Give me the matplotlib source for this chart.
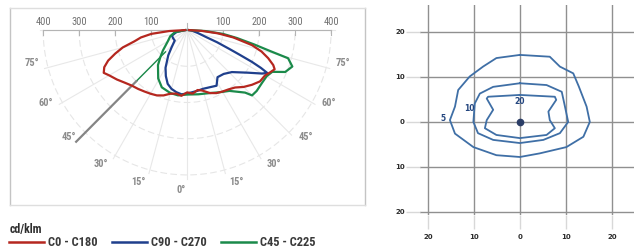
import matplotlib
matplotlib.use("Agg")
import matplotlib.pyplot as plt
from matplotlib import font_manager
import numpy as np

# ---- polar photometric curves (gamma in degrees from nadir, cd/klm) ----
red_gamma = [-90, -87, -84, -81, -78, -75, -72, -69, -66, -63, -60, -55, -50, -45, -40, -35, -30,
             -25, -20, -15, -10, -5, 0, 5, 10, 14, 20, 25, 30, 35, 40, 45, 50, 55, 60, 63, 66, 68,
             71, 74, 77, 81, 84, 87, 90]
red_cd = [5, 50, 100, 130, 150, 185, 210, 235, 252, 260, 250, 238, 226, 217, 212, 207, 203,
          199, 192, 182, 178, 182, 172, 176, 168, 172, 185, 192, 196, 200, 207, 222, 235, 247, 250, 258, 266, 258,
          238, 215, 185, 130, 86, 40, 5]

blue_gamma = [-90, -80, -70, -60, -50, -42, -37, -30, -25, -20, -15, -10, -5, 0, 5, 10, 15, 22, 28,
              33, 40, 47, 55, 60, 62, 63, 64, 65, 66, 68, 70, 75, 82, 90]
blue_cd = [5, 30, 45, 45, 45, 65, 87, 120, 140, 158, 168, 174, 178, 175, 172, 170, 168, 170, 174,
           155, 158, 170, 205, 240, 252, 230, 200, 160, 130, 90, 55, 30, 15, 5]

green_gamma = [-90, -80, -70, -60, -50, -45, -40, -31, -24, -15, -8, 0, 10, 20, 27, 35, 43, 45, 49,
               55, 60, 64, 67, 71, 74.5, 76, 78, 81, 84, 87, 90]
green_cd = [5, 35, 50, 62, 88, 105, 126, 156, 173, 180, 182, 178, 180, 185, 193, 205, 236, 255, 256,
            254, 255, 263, 296, 309, 291, 235, 190, 140, 100, 50, 5]

series_names = ["C0 - C180", "C90 - C270", "C45 - C225"]
series_colors = ["#b5271f", "#1f3f8c", "#1b8a4a"]

top_ticks = [-400, -300, -200, -100, 100, 200, 300, 400]
angle_ticks = [-75, -60, -45, -30, -15, 0, 15, 30, 45, 60, 75]
grid_radii = [100, 200, 300, 400]

# ---- isolux plot ----
iso5_x = [0, 6.5, 8.7, 11.6, 12.8, 14.5, 15.2, 13.8, 10.1, 4.3, 0, -5.1, -10.1, -14.1, -15.2,
          -14.1, -13.4, -10.9, -8.0, -5.1, 0]
iso5_y = [14.9, 14.5, 12.3, 10.8, 7.9, 3.4, 0, -3.3, -5.6, -7.0, -7.8, -7.4, -5.6, -2.6, 0.4,
          3.4, 7.1, 10.1, 12.3, 14.2, 14.9]
iso10_x = [0, 5.8, 9.1, 9.8, 10.5, 8.7, 5.1, 0, -5.8, -9.1, -10.1, -9.8, -8.7, -5.8, 0]
iso10_y = [8.6, 8.2, 6.7, 3.4, 0, -2.5, -4.0, -4.7, -4.0, -2.5, 0, 4.1, 6.3, 7.8, 8.6]
iso20_x = [0, 7.6, 7.9, 6.2, 6.5, 7.6, 5.8, 0, -5.1, -7.6, -7.2, -5.8, -7.2, -6.9, 0]
iso20_y = [6.0, 5.6, 4.9, 2.3, 0.4, -1.4, -2.9, -3.6, -2.9, -1.4, 0.4, 2.7, 5.2, 5.6, 6.0]
iso_labels = ["5", "10", "20"]
iso_label_x = [-16.7, -10.9, 0]
iso_label_y = [0.7, 3.0, 4.5]
grid_ticks = [-20, -10, 0, 10, 20]
grid_tick_labels = ["20", "10", "0", "10", "20"]


# pick a condensed face that also has a bold weight, if one is installed
def _w(f):
    w = f.weight
    if isinstance(w, str):
        return 700 if "bold" in w.lower() else 400
    return w


fonts = font_manager.fontManager.ttflist
bold_narrow = sorted({f.name for f in fonts
                      if ("Narrow" in f.name or "Condensed" in f.name) and _w(f) >= 600})
any_narrow = sorted({f.name for f in fonts if "Narrow" in f.name or "Condensed" in f.name})
narrow = "DejaVu Sans"
for pref in ["Liberation Sans Narrow", "DejaVu Sans Condensed", "Roboto Condensed"]:
    if pref in bold_narrow:
        narrow = pref
        break
else:
    if bold_narrow:
        narrow = bold_narrow[0]
    elif any_narrow:
        narrow = any_narrow[0]
is_narrow = narrow != "DejaVu Sans"


def to_xy(gamma, cd):
    g = np.radians(np.asarray(gamma, dtype=float))
    r = np.asarray(cd, dtype=float)
    return r * np.sin(g), -r * np.cos(g)


fig = plt.figure(figsize=(6.34, 2.52), dpi=100)

# left panel
ax = fig.add_axes([10 / 634, 47 / 252, 355 / 634, 197 / 252])
ax.set_xlim(-492, 494)
ax.set_ylim(-483, 61)
ax.set_xticks([])
ax.set_yticks([])
for s in ax.spines.values():
    s.set_color("#dedede")
    s.set_linewidth(1.0)
ax.spines["left"].set_color("#c4c4c4")
ax.spines["right"].set_color("#c4c4c4")

t = np.radians(np.linspace(-90, 90, 200))
for r in grid_radii:
    ax.plot(r * np.sin(t), -r * np.cos(t), color="#e6e6e6", lw=0.8, ls=(0, (6, 3)), zorder=1)
for a in range(-90, 91, 15):
    gx, gy = to_xy([a, a], [0, 410])
    ax.plot(gx, gy, color="#e8e8e8", lw=0.8, zorder=1)
ax.plot([-400, 400], [0, 0], color="#b4b4b4", lw=0.8, zorder=1)
for v in top_ticks:
    ax.plot([v, v], [0, -14], color="#b4b4b4", lw=0.8, zorder=1)
    ax.text(v, 8, str(abs(v)), ha="center", va="bottom", fontsize=7.5, color="#707070",
            family=narrow)
ax.plot([0, 0], [0, 20], color="#b8b8b8", lw=0.8)

for a in angle_ticks:
    off = 3 * np.sign(a) if a != 0 else -2
    lx, ly = to_xy([a + off], [442])
    ax.text(lx[0], ly[0], f"{abs(a)}°", ha="center", va="center", fontsize=7.5,
            color="#8c8c8c", fontweight="bold", family=narrow)

# highlighted 45 degree line
lx, ly = to_xy([-45, -45], [85, 200])
ax.plot(lx, ly, color=series_colors[2], lw=1.0, zorder=3)
lx, ly = to_xy([-45, -45], [200, 436])
ax.plot(lx, ly, color="#858585", lw=1.6, zorder=3)

handles = []
for (gam, cd), name, col in zip([(red_gamma, red_cd), (blue_gamma, blue_cd), (green_gamma, green_cd)],
                                series_names, series_colors):
    x, y = to_xy(gam, cd)
    h, = ax.plot(x, y, color=col, lw=1.6, label=name, zorder=4, solid_joinstyle="round")
    handles.append(h)
handles[0].set_zorder(5)

fig.text(10 / 634, (252 - 233) / 252, "cd/klm", fontsize=8.5 if is_narrow else 7.5,
         fontweight="bold", color="#2e2e2e", family=narrow, ha="left", va="baseline")
leg_size = 9 if is_narrow else 6.6
leg = fig.legend(handles=handles, labels=series_names, loc="lower left",
                 bbox_to_anchor=(9 / 634, 3 / 252), ncol=3, frameon=False,
                 handlelength=35 / (leg_size * 1.389), handletextpad=0.35,
                 columnspacing=14 / (leg_size * 1.389), borderpad=0,
                 borderaxespad=0, prop={"family": narrow, "size": leg_size, "weight": "bold"})
for txt in leg.get_texts():
    txt.set_color("#3a3a3a")
for lh in leg.get_lines():
    lh.set_linewidth(1.8)

# right panel
ax2 = fig.add_axes([420 / 634, 37 / 252, 214 / 634, 210 / 252])
ax2.set_xlim(-21.7, 24.8)
ax2.set_ylim(-20.7, 26)
for s in ax2.spines.values():
    s.set_visible(False)
ax2.set_xticks(grid_ticks)
ax2.set_xticklabels(grid_tick_labels)
ax2.set_yticks(grid_ticks)
ax2.set_yticklabels(grid_tick_labels)
ax2.tick_params(axis="both", length=10, width=1, color="#d8d8d8", labelsize=5,
                labelcolor="#2b2b2b")
ax2.tick_params(axis="y", pad=1)
ax2.tick_params(axis="x", pad=4)
for lab in ax2.get_xticklabels() + ax2.get_yticklabels():
    lab.set_fontweight("bold")
ax2.grid(True, color="#909090", lw=1.0)
ax2.set_axisbelow(True)

for xs, ys in [(iso5_x, iso5_y), (iso10_x, iso10_y), (iso20_x, iso20_y)]:
    ax2.plot(xs, ys, color="#3f6fa6", lw=1.3, solid_joinstyle="round")
for lab, x, y in zip(iso_labels, iso_label_x, iso_label_y):
    ax2.text(x, y, lab, fontsize=5.5, fontweight="bold", color="#24467f", ha="center", va="center")
ax2.plot([0], [0], "o", ms=4.5, color="#2b3d66")

fig.savefig("out.png", dpi=100)
